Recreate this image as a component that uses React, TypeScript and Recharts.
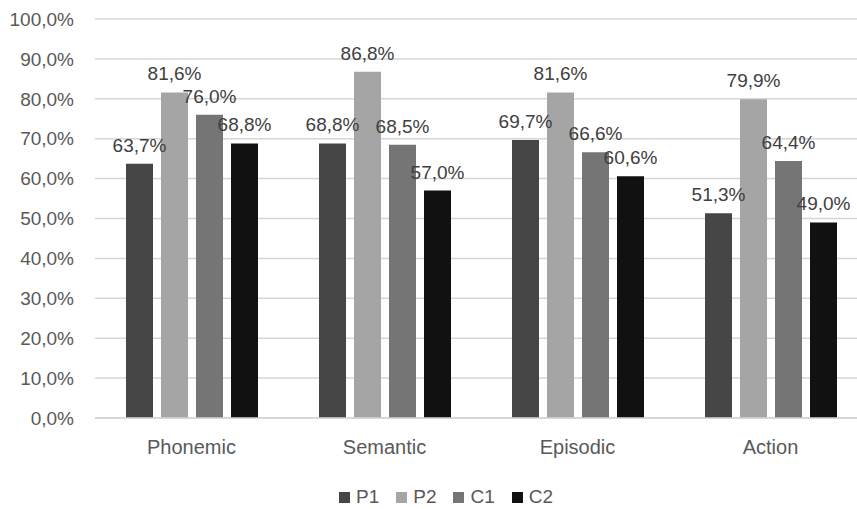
import React from "react";
import { BarChart, Bar, XAxis, YAxis, CartesianGrid, LabelList, Legend } from "recharts";

const categories = ["Phonemic", "Semantic", "Episodic", "Action"];
const p1 = [63.7, 68.8, 69.7, 51.3];
const p2 = [81.6, 86.8, 81.6, 79.9];
const c1 = [76.0, 68.5, 66.6, 64.4];
const c2 = [68.8, 57.0, 60.6, 49.0];
const yTicks = [0, 10, 20, 30, 40, 50, 60, 70, 80, 90, 100];

const seriesNames = ["P1", "P2", "C1", "C2"];
const seriesColors = ["#464646", "#a5a5a5", "#757575", "#111111"];

const data = categories.map((name, i) => ({
  name,
  P1: p1[i],
  P2: p2[i],
  C1: c1[i],
  C2: c2[i],
}));

const fmt = (v: number) => `${Number(v).toFixed(1).replace(".", ",")}%`;
const FONT = "'Liberation Sans', Arial, sans-serif";

const LegendContent = () => (
  <div
    style={{
      display: "flex",
      justifyContent: "center",
      alignItems: "center",
      fontFamily: FONT,
      fontSize: 19,
      color: "#595959",
      height: 24,
      paddingLeft: 25,
    }}
  >
    {seriesNames.map((n, i) => (
      <div key={n} style={{ display: "flex", alignItems: "center", marginRight: i < 3 ? 17 : 0 }}>
        <div style={{ width: 11, height: 11, background: seriesColors[i], marginRight: 6 }} />
        <span>{n}</span>
      </div>
    ))}
  </div>
);

export default function App() {
  return (
    <div
      style={{
        position: "fixed",
        left: 0,
        top: 0,
        width: 857,
        height: 509,
        overflow: "hidden",
        background: "#ffffff",
      }}
    >
      <BarChart
        width={892}
        height={509}
        data={data}
        margin={{ top: 19, right: 25, left: 0, bottom: 0 }}
        barSize={27}
        barGap={8}
      >
        <CartesianGrid vertical={false} stroke="#d6d6d6" strokeWidth={1.5} />
        <XAxis
          dataKey="name"
          axisLine={{ stroke: "#d6d6d6", strokeWidth: 1.5 }}
          tickLine={false}
          tickSize={0}
          tickMargin={22}
          height={67}
          tick={{ fontSize: 20, fill: "#595959", fontFamily: FONT }}
        />
        <YAxis
          width={95}
          domain={[0, 100]}
          ticks={yTicks}
          interval={0}
          tickFormatter={fmt}
          axisLine={false}
          tickLine={false}
          tickSize={0}
          tickMargin={21}
          tick={{ fontSize: 19, fill: "#595959", fontFamily: FONT }}
        />
        <Legend verticalAlign="bottom" height={24} content={<LegendContent />} />
        {seriesNames.map((n, i) => (
          <Bar key={n} dataKey={n} fill={seriesColors[i]} isAnimationActive={false}>
            <LabelList
              dataKey={n}
              position="top"
              offset={12}
              formatter={fmt}
              style={{ fontSize: 19, fill: "#404040", fontFamily: FONT }}
            />
          </Bar>
        ))}
      </BarChart>
    </div>
  );
}
